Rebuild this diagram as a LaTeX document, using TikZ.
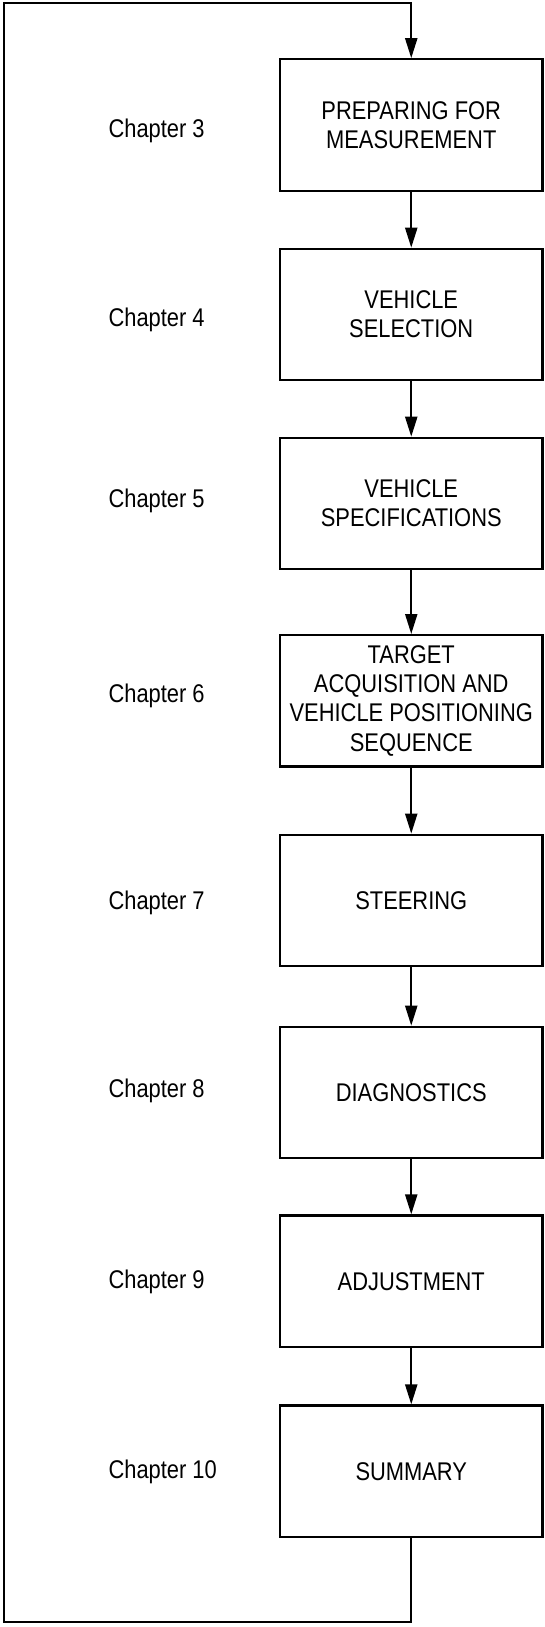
\documentclass[tikz,border=0pt]{standalone}
\usepackage{fontspec}
\setmainfont{Liberation Sans}[FakeStretch=0.855]
\usetikzlibrary{arrows.meta}

\begin{document}
\begin{tikzpicture}[x=0.75pt,y=0.75pt,yscale=-1,xscale=1,
  stepbox/.style={draw,line width=1.6pt,minimum width=196.9pt,minimum height=98.6pt,inner sep=0pt,align=center,font=\fontsize{19.2}{22}\selectfont},
  chaplabel/.style={anchor=base west,inner sep=0pt,font=\fontsize{19.2}{22}\selectfont},
  flow/.style={line width=1.6pt,-{Triangle[length=15pt,width=9pt]}}]
\useasboundingbox (0,0) rectangle (544,1627);

% Step Boxes
\node[stepbox] (prep) at (411.25,125) {PREPARING FOR\\MEASUREMENT};
\node[stepbox] (vsel) at (411.25,314.5) {VEHICLE\\SELECTION};
\node[stepbox] (vspec) at (411.25,503.5) {VEHICLE\\SPECIFICATIONS};
\node[stepbox] (targ) at (411.25,700.8) {TARGET\\ACQUISITION AND\\VEHICLE POSITIONING\\SEQUENCE};
\node[stepbox] (steer) at (411.25,900.4) {STEERING};
\node[stepbox] (diag) at (411.25,1092.5) {DIAGNOSTICS};
\node[stepbox] (adj) at (411.25,1281.2) {ADJUSTMENT};
\node[stepbox] (summ) at (411.25,1471.2) {SUMMARY};

% Chapter Labels
\node[chaplabel] (ch3) at (108.3,137.3) {Chapter 3};
\node[chaplabel] (ch4) at (108.3,326.7) {Chapter 4};
\node[chaplabel] (ch5) at (108.3,507.5) {Chapter 5};
\node[chaplabel] (ch6) at (108.3,702) {Chapter 6};
\node[chaplabel] (ch7) at (108.3,909) {Chapter 7};
\node[chaplabel] (ch8) at (108.3,1097) {Chapter 8};
\node[chaplabel] (ch9) at (108.3,1288) {Chapter 9};
\node[chaplabel] (ch10) at (108.3,1478) {Chapter 10};

% Arrows
\draw[flow] (prep) -- (vsel);
\draw[flow] (vsel) -- (vspec);
\draw[flow] (vspec) -- (targ);
\draw[flow] (targ) -- (steer);
\draw[flow] (steer) -- (diag);
\draw[flow] (diag) -- (adj);
\draw[flow] (adj) -- (summ);

% Loop back
\coordinate (botleft) at (4,1622);
\coordinate (topleft) at (4,3.3);
\draw[flow] (summ.south) |- (botleft) -- (topleft) -| (prep.north);

\end{tikzpicture}
\end{document}
